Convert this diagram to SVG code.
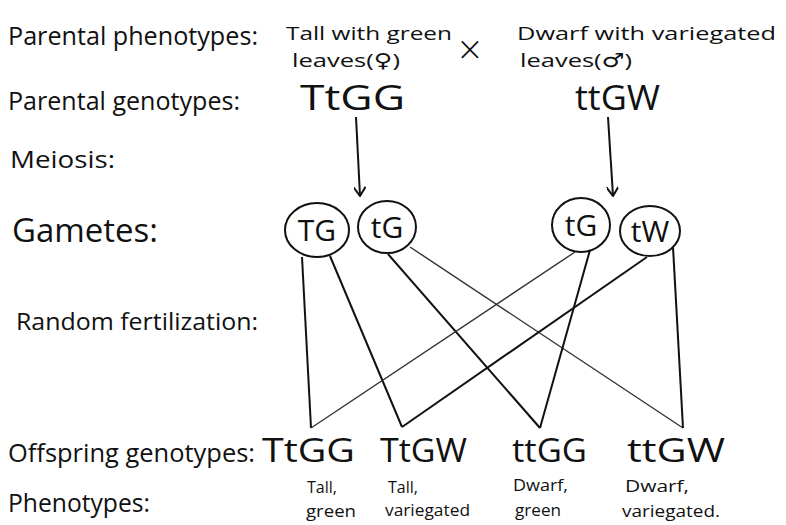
<svg xmlns="http://www.w3.org/2000/svg" width="786" height="525" viewBox="0 0 786 525">
<style>
text{font-family:"Open Sans","DejaVu Sans",sans-serif;fill:#111;}
.lab{font-size:26px;}
.sm{font-size:19px;}
.gen{font-size:34px;}
.gam{font-size:30px;text-anchor:middle;}
.ph{font-size:16px;}
.c{fill:none;stroke:#111;stroke-width:2;}
.ln{stroke:#111;stroke-width:2;fill:none;}
.thin{stroke:#333;stroke-width:1.4;fill:none;}
</style>
<defs>
<marker id="v" viewBox="0 0 12 12" refX="11" refY="6" markerWidth="12" markerHeight="12" markerUnits="userSpaceOnUse" orient="auto">
<polyline points="2,0 11,6 2,12" fill="none" stroke="#111" stroke-width="2"/>
</marker>
</defs>
<rect width="786" height="525" fill="#fff"/>
<g id="labels">
<text class="lab" x="8" y="45" textLength="250" lengthAdjust="spacingAndGlyphs">Parental phenotypes:</text>
<text class="lab" x="8" y="110" textLength="232" lengthAdjust="spacingAndGlyphs">Parental genotypes:</text>
<text class="lab" x="10" y="168" textLength="105" lengthAdjust="spacingAndGlyphs" style="font-size:24px">Meiosis:</text>
<text class="lab" x="12" y="242" textLength="146" lengthAdjust="spacingAndGlyphs" style="font-size:32px">Gametes:</text>
<text class="lab" x="16" y="330" textLength="242" lengthAdjust="spacingAndGlyphs" style="font-size:24px">Random fertilization:</text>
<text class="lab" x="8" y="462" textLength="247" lengthAdjust="spacingAndGlyphs">Offspring genotypes:</text>
<text class="lab" x="8" y="512" textLength="142" lengthAdjust="spacingAndGlyphs">Phenotypes:</text>
</g>
<g id="parent-female">
<text class="sm" x="286" y="40" textLength="166" lengthAdjust="spacingAndGlyphs">Tall with green</text>
<text class="sm" x="292" y="67" textLength="108" lengthAdjust="spacingAndGlyphs">leaves(♀)</text>
</g>
<g id="cross"><text x="470" y="64" style="font-size:40px;text-anchor:middle;font-weight:300">×</text></g>
<g id="parent-male">
<text class="sm" x="517" y="40" textLength="259" lengthAdjust="spacingAndGlyphs">Dwarf with variegated</text>
<text class="sm" x="520" y="67" textLength="112" lengthAdjust="spacingAndGlyphs">leaves(♂)</text>
</g>
<g id="genotype-female"><text class="gen" x="300" y="110" textLength="105" lengthAdjust="spacingAndGlyphs">TtGG</text></g>
<g id="genotype-male"><text class="gen" x="575" y="110" textLength="85" lengthAdjust="spacingAndGlyphs">ttGW</text></g>
<g id="gamete-TG"><ellipse class="c" cx="317" cy="230" rx="32" ry="27"/><text class="gam" x="317" y="241">TG</text></g>
<g id="gamete-tG1"><ellipse class="c" cx="387" cy="227" rx="29" ry="26"/><text class="gam" x="387" y="238">tG</text></g>
<g id="gamete-tG2"><ellipse class="c" cx="581" cy="225" rx="29" ry="27"/><text class="gam" x="581" y="236">tG</text></g>
<g id="gamete-tW"><ellipse class="c" cx="650" cy="231" rx="30" ry="25"/><text class="gam" x="650" y="242">tW</text></g>
<g id="offspring-TtGG"><text class="gen" x="262" y="462" textLength="93" lengthAdjust="spacingAndGlyphs" style="font-size:32px">TtGG</text><text class="ph" x="307" y="493">Tall,</text><text class="ph" x="306" y="517" textLength="50" lengthAdjust="spacingAndGlyphs">green</text></g>
<g id="offspring-TtGW"><text class="gen" x="380" y="462" textLength="87" lengthAdjust="spacingAndGlyphs" style="font-size:32px">TtGW</text><text class="ph" x="388" y="493">Tall,</text><text class="ph" x="385" y="516" textLength="85" lengthAdjust="spacingAndGlyphs">variegated</text></g>
<g id="offspring-ttGG"><text class="gen" x="512" y="462" textLength="75" lengthAdjust="spacingAndGlyphs" style="font-size:32px">ttGG</text><text class="ph" x="513" y="491" textLength="55" lengthAdjust="spacingAndGlyphs">Dwarf,</text><text class="ph" x="515" y="516" textLength="46" lengthAdjust="spacingAndGlyphs">green</text></g>
<g id="offspring-ttGW"><text class="gen" x="627" y="462" textLength="98" lengthAdjust="spacingAndGlyphs" style="font-size:32px">ttGW</text><text class="ph" x="625" y="492" textLength="64" lengthAdjust="spacingAndGlyphs">Dwarf,</text><text class="ph" x="622" y="517" textLength="98" lengthAdjust="spacingAndGlyphs">variegated.</text></g>
<g id="connectors">
<line class="ln" x1="356" y1="117" x2="360" y2="196" marker-end="url(#v)"/>
<line class="ln" x1="608" y1="117" x2="613" y2="196" marker-end="url(#v)"/>
<line class="ln" x1="302" y1="257" x2="311" y2="428"/>
<line class="ln" x1="330" y1="256" x2="402" y2="427"/>
<line class="ln" x1="388" y1="254" x2="540" y2="428"/>
<line class="thin" x1="410" y1="247" x2="683" y2="428"/>
<line class="thin" x1="575" y1="252" x2="311" y2="428"/>
<line class="ln" x1="590" y1="250" x2="540" y2="428"/>
<line class="ln" x1="647" y1="257" x2="402" y2="427"/>
<line class="ln" x1="673" y1="247" x2="683" y2="428"/>
</g>
</svg>
